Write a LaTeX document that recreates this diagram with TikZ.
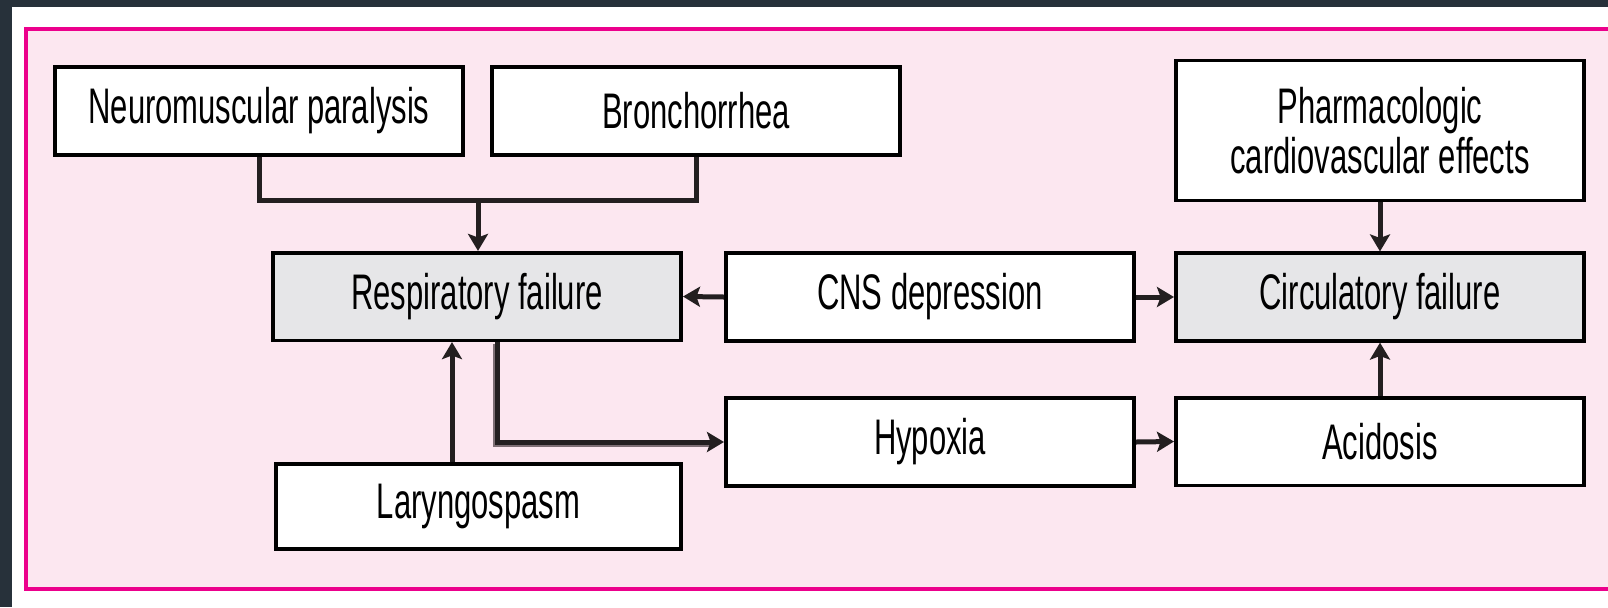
\documentclass[tikz,border=0pt]{standalone}
\usepackage{fontspec}
\setmainfont[FakeStretch=0.62]{Liberation Sans}
\usetikzlibrary{arrows.meta}
\definecolor{pinkbg}{HTML}{FCE7F0}
\definecolor{magentab}{HTML}{EC008C}
\definecolor{boxgray}{HTML}{E6E6E8}
\definecolor{darkbg}{HTML}{27313A}
\definecolor{shadowc}{HTML}{7D6E74}
\definecolor{inkc}{HTML}{231F20}
\begin{document}
\begin{tikzpicture}[x=0.5pt,y=-0.5pt,
  box/.style={draw=black,line width=1.8pt,fill=white,minimum width=204.2pt,minimum height=43.8pt,
    inner sep=0pt,align=center,font=\fontsize{25}{25}\selectfont},
  conn/.style={draw=inkc,line width=2.5pt,line join=miter},
  arr/.style={conn,-{Stealth[length=8.5pt,width=10pt,inset=1.8pt]}},
  shade/.style={draw=shadowc,line width=2.5pt,line join=miter}]
\useasboundingbox (0,0) rectangle (1608,607);
\clip (0,0) rectangle (1608,607);
\fill[darkbg] (0,0) rectangle (1608,607);
\fill[white] (12,7) rectangle (1620,620);
\draw[magentab,line width=2pt,fill=pinkbg] (26,29) rectangle (1625,589);

\node[box] (nm) at (259,111) {Neuromuscular paralysis};
\node[box] (br) at (696,111) {Bronchorrhea};
\node[box,minimum height=70pt] (ph) at (1380,130.5) {Pharmacologic\\cardiovascular effects};
\node[box,fill=boxgray] (rf) at (477,296.5) {Respiratory failure};
\node[box] (cns) at (930,297) {CNS depression};
\node[box,fill=boxgray] (cf) at (1380,297) {Circulatory failure};
\node[box] (hy) at (930,442) {Hypoxia};
\node[box] (ac) at (1380,441.5) {Acidosis};
\node[box,minimum width=202.7pt,minimum height=42.3pt] (la) at (478.5,506.5) {Laryngospasm};

\coordinate (jn) at (478,200);
\draw[conn] (nm.south) |- (br.south |- jn) -- (br.south);
\draw[arr] (jn) -- (rf.north -| jn);

\draw[arr] (cns.west) -- (rf.east);
\draw[arr] (cns.east) -- (cf.west);
\draw[arr] (ph.south) -- (cf.north);
\draw[arr] (ac.north) -- (cf.south);
\draw[arr] (hy.east) -- (ac.west);

\coordinate (lx) at (452,0);
\draw[arr] (la.north -| lx) -- (rf.south -| lx);

\coordinate (rx) at (497,0);
\coordinate (rfo) at (rf.south -| rx);
\coordinate (hyi) at ([xshift=-7pt]hy.west);
\draw[shade] ([xshift=-0.8pt,yshift=-1pt]rfo) |- ([yshift=-1pt]hyi);
\draw[arr] (rfo) |- (hy.west);
\end{tikzpicture}
\end{document}
